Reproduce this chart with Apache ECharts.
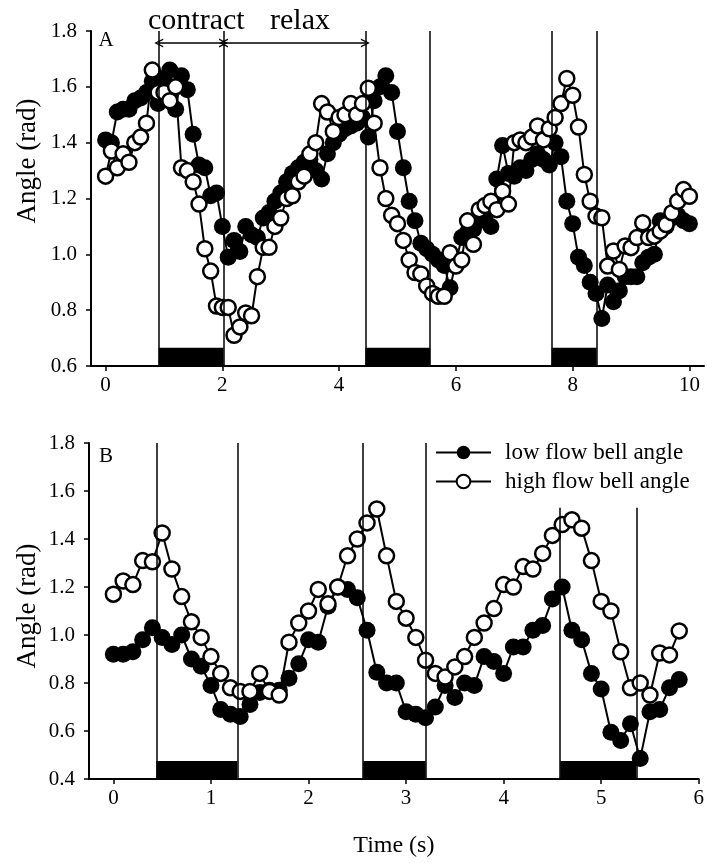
<!DOCTYPE html>
<html>
<head>
<meta charset="utf-8">
<script src="https://cdn.jsdelivr.net/npm/echarts@6.0.0/dist/echarts.min.js"></script>
<style>
  html, body { margin: 0; padding: 0; background: #fff; }
  #chart { width: 707px; height: 863px; }
</style>
</head>
<body>
<div id="chart"></div>
<script>
// panel A: 0-10 s
const timeA = [0, 0.1, 0.2, 0.3, 0.4, 0.5, 0.6, 0.7, 0.8, 0.9,
  1.0, 1.1, 1.2, 1.3, 1.4, 1.5, 1.6, 1.7, 1.8, 1.9,
  2.0, 2.1, 2.2, 2.3, 2.4, 2.5, 2.6, 2.7, 2.8, 2.9,
  3.0, 3.1, 3.2, 3.3, 3.4, 3.5, 3.6, 3.7, 3.8, 3.9,
  4.0, 4.1, 4.2, 4.3, 4.4, 4.5, 4.6, 4.7, 4.8, 4.9,
  5.0, 5.1, 5.2, 5.3, 5.4, 5.5, 5.6, 5.7, 5.8, 5.9,
  6.0, 6.1, 6.2, 6.3, 6.4, 6.5, 6.6, 6.7, 6.8, 6.9,
  7.0, 7.1, 7.2, 7.3, 7.4, 7.5, 7.6, 7.7, 7.8, 7.9,
  8.0, 8.1, 8.2, 8.3, 8.4, 8.5, 8.6, 8.7, 8.8, 8.9,
  9.0, 9.1, 9.2, 9.3, 9.4, 9.5, 9.6, 9.7, 9.8, 9.9, 10.0];
const lowA = [1.41, 1.40, 1.51, 1.52, 1.52, 1.55, 1.56, 1.58, 1.62, 1.54,
  1.63, 1.66, 1.52, 1.64, 1.59, 1.43, 1.32, 1.31, 1.21, 1.22,
  1.10, 0.99, 1.05, 1.01, 1.10, 1.07, 1.06, 1.13, 1.15, 1.19,
  1.22, 1.26, 1.29, 1.31, 1.33, 1.34, 1.30, 1.27, 1.36, 1.40,
  1.43, 1.45, 1.46, 1.47, 1.49, 1.42, 1.55, 1.60, 1.64, 1.58,
  1.44, 1.31, 1.19, 1.12, 1.04, 1.02, 1.00, 0.98, 0.96, 0.88,
  0.97, 1.06, 1.08, 1.09, 1.12, 1.14, 1.10, 1.27, 1.39, 1.29,
  1.28, 1.31, 1.30, 1.34, 1.36, 1.34, 1.32, 1.40, 1.35, 1.19,
  1.11, 0.99, 0.96, 0.90, 0.86, 0.77, 0.89, 0.83, 0.87, 0.92,
  0.92, 0.92, 0.97, 0.99, 1.00, 1.12, 1.10, 1.13, 1.14, 1.12, 1.11];
const highA = [1.28, 1.37, 1.31, 1.36, 1.33, 1.40, 1.42, 1.47, 1.66, 1.58,
  1.58, 1.55, 1.60, 1.31, 1.30, 1.26, 1.18, 1.02, 0.94, 0.815,
  0.81, 0.81, 0.71, 0.74, 0.79, 0.78, 0.92, 1.025, 1.025, 1.10,
  1.13, 1.20, 1.21, 1.26, 1.28, 1.36, 1.40, 1.54, 1.51, 1.44,
  1.49, 1.50, 1.54, 1.50, 1.54, 1.595, 1.47, 1.31, 1.20, 1.14,
  1.11, 1.05, 0.98, 0.935, 0.93, 0.887, 0.86, 0.85, 0.85, 1.006,
  0.958, 0.98, 1.12, 1.036, 1.16, 1.175, 1.19, 1.16, 1.226, 1.18,
  1.40, 1.41, 1.40, 1.42, 1.46, 1.41, 1.45, 1.49, 1.54, 1.63,
  1.57, 1.456, 1.286, 1.19, 1.137, 1.131, 0.958, 1.012, 0.946, 1.03,
  1.024, 1.06, 1.113, 1.06, 1.065, 1.083, 1.107, 1.149, 1.19, 1.232, 1.208];

// panel B: 0-5.8 s
const timeB = [0, 0.1, 0.2, 0.3, 0.4, 0.5, 0.6, 0.7, 0.8, 0.9,
  1.0, 1.1, 1.2, 1.3, 1.4, 1.5, 1.6, 1.7, 1.8, 1.9,
  2.0, 2.1, 2.2, 2.3, 2.4, 2.5, 2.6, 2.7, 2.8, 2.9,
  3.0, 3.1, 3.2, 3.3, 3.4, 3.5, 3.6, 3.7, 3.8, 3.9,
  4.0, 4.1, 4.2, 4.3, 4.4, 4.5, 4.6, 4.7, 4.8, 4.9,
  5.0, 5.1, 5.2, 5.3, 5.4, 5.5, 5.6, 5.7, 5.8];
const lowB = [0.92, 0.92, 0.93, 0.98, 1.03, 0.99, 0.96, 1.00, 0.90, 0.87,
  0.79, 0.69, 0.67, 0.66, 0.71, 0.76, 0.77, 0.77, 0.82, 0.88,
  0.98, 0.97, 1.12, 1.20, 1.19, 1.155, 1.02, 0.845, 0.80, 0.80,
  0.68, 0.67, 0.655, 0.70, 0.79, 0.74, 0.80, 0.79, 0.91, 0.89,
  0.84, 0.95, 0.95, 1.02, 1.04, 1.15, 1.20, 1.02, 0.98, 0.84,
  0.775, 0.595, 0.56, 0.63, 0.485, 0.68, 0.69, 0.78, 0.815];
const highB = [1.17, 1.225, 1.21, 1.31, 1.305, 1.425, 1.275, 1.16, 1.055, 0.99,
  0.91, 0.84, 0.78, 0.765, 0.765, 0.84, 0.765, 0.75, 0.97, 1.05,
  1.10, 1.19, 1.13, 1.20, 1.33, 1.40, 1.467, 1.525, 1.33, 1.14,
  1.07, 0.99, 0.895, 0.84, 0.825, 0.867, 0.91, 0.99, 1.05, 1.11,
  1.21, 1.20, 1.285, 1.275, 1.34, 1.415, 1.46, 1.48, 1.445, 1.31,
  1.14, 1.10, 0.93, 0.78, 0.80, 0.75, 0.925, 0.917, 1.017];

// contraction periods [start, end] (s) and how high their boundary lines reach
const contractA = [[0.91, 2.02], [4.45, 5.56], [7.64, 8.41]];
const lineTopA = [1.8, 1.8, 1.8];
const contractB = [[0.44, 1.27], [2.56, 3.20], [4.58, 5.36]];
const lineTopB = [1.8, 1.8, 1.53];
// double arrows under "contract  relax"
const arrowsA = [[0.91, 2.02], [2.02, 4.45]];
const arrowLevel = 1.757;

const ticksA = [0, 2, 4, 6, 8, 10];
const ticksB = [0, 1, 2, 3, 4, 5, 6];

const FONT = '"Liberation Serif", "Times New Roman", serif';
const LOW = 'low flow bell angle';
const HIGH = 'high flow bell angle';
const arrowHead = 'path://M5,0L10,10L8.4,10L5,3.2L1.6,10L0,10Z';

function pairs(t, v) {
  return t.map((x, i) => [x, v[i]]);
}

function boundaryLines(periods, tops, base) {
  let out = [];
  periods.forEach((p, i) => {
    p.forEach(x => {
      out.push([{ coord: [x, base] }, { coord: [x, tops[i]] }]);
    });
  });
  return out;
}

function bars(periods, base, h) {
  return periods.map(p => [{ coord: [p[0], base] }, { coord: [p[1], base + h] }]);
}

function xAxisOf(grid, min, max, ticks, name) {
  return {
    type: 'value', gridIndex: grid, min: min, max: max,
    name: name, nameLocation: 'middle', nameGap: 55,
    nameTextStyle: { fontFamily: FONT, fontSize: 24, color: '#000' },
    axisLine: { onZero: false, lineStyle: { color: '#000', width: 2 } },
    axisTick: { customValues: ticks, length: 5, lineStyle: { color: '#000', width: 1.5 } },
    axisLabel: { customValues: ticks, margin: 9, fontFamily: FONT, fontSize: 21, color: '#000' },
    splitLine: { show: false }
  };
}

function yAxisOf(grid, min, max) {
  return {
    type: 'value', gridIndex: grid, min: min, max: max, interval: 0.2,
    axisLine: { show: true, onZero: false, lineStyle: { color: '#000', width: 2 } },
    axisTick: { show: true, length: 5, lineStyle: { color: '#000', width: 1.5 } },
    axisLabel: { margin: 14, fontFamily: FONT, fontSize: 21, color: '#000',
      formatter: v => v.toFixed(1) },
    splitLine: { show: false }
  };
}

function lowSeries(idx, t, v, marks) {
  return Object.assign({
    name: LOW, type: 'line', xAxisIndex: idx, yAxisIndex: idx,
    data: pairs(t, v),
    symbol: 'circle', symbolSize: 17, showAllSymbol: true,
    lineStyle: { color: '#000', width: 2 },
    itemStyle: { color: '#000' },
    clip: false, z: 2
  }, marks);
}

function highSeries(idx, t, v, marks) {
  return Object.assign({
    name: HIGH, type: 'line', xAxisIndex: idx, yAxisIndex: idx,
    data: pairs(t, v),
    symbol: 'circle', symbolSize: 15, showAllSymbol: true,
    lineStyle: { color: '#000', width: 2 },
    itemStyle: { color: '#fff', borderColor: '#000', borderWidth: 2.5 },
    clip: false, z: 3
  }, marks);
}

const chart = echarts.init(document.getElementById('chart'));

const option = {
  animation: false,
  backgroundColor: '#fff',
  grid: [
    { left: 91, right: 3, top: 31, bottom: 497 },
    { left: 89, right: 5, top: 443, bottom: 84 }
  ],
  xAxis: [
    xAxisOf(0, -0.25, 10.25, ticksA, ''),
    xAxisOf(1, -0.25, 6, ticksB, 'Time (s)')
  ],
  yAxis: [
    yAxisOf(0, 0.6, 1.8),
    yAxisOf(1, 0.4, 1.8)
  ],
  legend: {
    data: [LOW, HIGH],
    orient: 'vertical', left: 435, top: 441, padding: 0,
    itemWidth: 55, itemHeight: 17, itemGap: 6,
    textStyle: { fontFamily: FONT, fontSize: 23, color: '#000', padding: [0, 0, 0, 9] }
  },
  graphic: [
    { type: 'text', x: 106, y: 40, style: { text: 'A', font: '21px ' + FONT, fill: '#000', align: 'center', verticalAlign: 'middle' } },
    { type: 'text', x: 106, y: 456, style: { text: 'B', font: '21px ' + FONT, fill: '#000', align: 'center', verticalAlign: 'middle' } },
    { type: 'text', x: 148, y: 21, style: { text: 'contract', font: '30px ' + FONT, fill: '#000', align: 'left', verticalAlign: 'middle' } },
    { type: 'text', x: 270, y: 21, style: { text: 'relax', font: '30px ' + FONT, fill: '#000', align: 'left', verticalAlign: 'middle' } },
    { type: 'text', x: 28, y: 161, rotation: Math.PI / 2, style: { text: 'Angle (rad)', font: '27px ' + FONT, fill: '#000', align: 'center', verticalAlign: 'middle' } },
    { type: 'text', x: 28, y: 606, rotation: Math.PI / 2, style: { text: 'Angle (rad)', font: '27px ' + FONT, fill: '#000', align: 'center', verticalAlign: 'middle' } }
  ],
  series: [
    lowSeries(0, timeA, lowA, {
      markLine: {
        silent: true, symbol: 'none', label: { show: false },
        lineStyle: { color: '#000', width: 1.5, type: 'solid' },
        data: boundaryLines(contractA, lineTopA, 0.6)
      },
      markArea: {
        silent: true, label: { show: false },
        itemStyle: { color: '#000', opacity: 1 },
        data: bars(contractA, 0.6, 0.065)
      }
    }),
    highSeries(0, timeA, highA, {
      markLine: {
        silent: true, symbol: [arrowHead, arrowHead], symbolSize: [9, 9],
        label: { show: false },
        lineStyle: { color: '#000', width: 1.5, type: 'solid' },
        data: arrowsA.map(a => [{ coord: [a[0], arrowLevel] }, { coord: [a[1], arrowLevel] }])
      }
    }),
    lowSeries(1, timeB, lowB, {
      markLine: {
        silent: true, symbol: 'none', label: { show: false },
        lineStyle: { color: '#000', width: 1.5, type: 'solid' },
        data: boundaryLines(contractB, lineTopB, 0.4)
      },
      markArea: {
        silent: true, label: { show: false },
        itemStyle: { color: '#000', opacity: 1 },
        data: bars(contractB, 0.4, 0.075)
      }
    }),
    highSeries(1, timeB, highB, {})
  ]
};

chart.setOption(option);
</script>
</body>
</html>
